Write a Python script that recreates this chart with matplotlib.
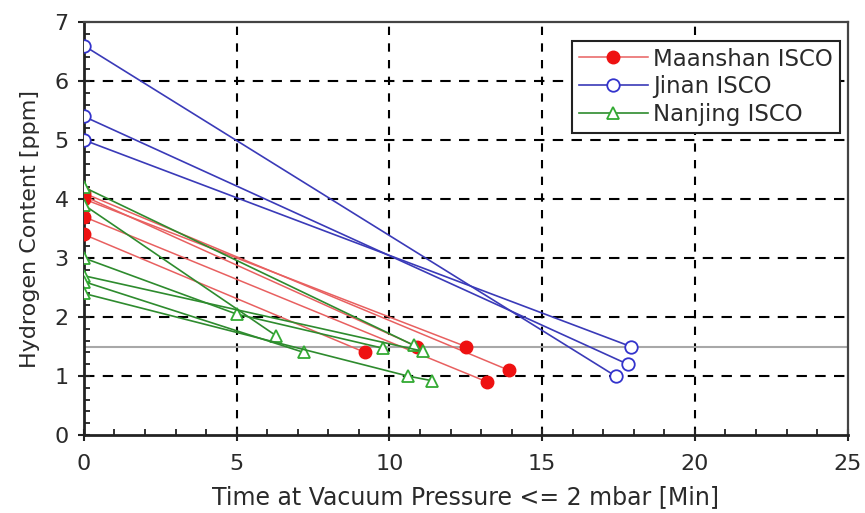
import matplotlib
matplotlib.use("Agg")
import matplotlib.pyplot as plt
from matplotlib.ticker import MultipleLocator

# ---- data ----
maanshan_x = [[0, 13.9], [0, 12.5], [0, 13.2], [0, 9.2], [0, 10.9]]
maanshan_y = [[4.1, 1.1], [4.0, 1.5], [3.7, 0.9], [3.4, 1.4], [4.05, 1.5]]

jinan_x = [[0, 17.4], [0, 17.8], [0, 17.9]]
jinan_y = [[6.6, 1.0], [5.4, 1.2], [5.0, 1.5]]

nanjing_x = [[0, 10.8], [0, 6.3], [0, 5.0, 9.8], [0, 11.1], [0, 7.2], [0, 10.6, 11.4]]
nanjing_y = [[4.2, 1.52], [3.9, 1.68], [3.0, 2.05, 1.47], [2.7, 1.42], [2.6, 1.4], [2.4, 1.0, 0.92]]

limit_value = 1.5
x_ticks = [0, 5, 10, 15, 20, 25]
y_ticks = [0, 1, 2, 3, 4, 5, 6, 7]
labels = ["Maanshan ISCO", "Jinan ISCO", "Nanjing ISCO"]
xlabel = "Time at Vacuum Pressure <= 2 mbar [Min]"
ylabel = "Hydrogen Content [ppm]"

plt.rcParams['font.family'] = ['DejaVu Sans']
txt_color = '#2a2a2a'

fig = plt.figure(figsize=(8.65, 5.13), dpi=100)
ax = fig.add_axes([0.097, 0.152, 0.883, 0.805])

# grid
for xv in x_ticks[1:-1]:
    ax.axvline(xv, color='black', lw=1.5, ls=(0, (4, 4)), zorder=1)
for yv in y_ticks[1:-1]:
    ax.axhline(yv, color='black', lw=1.5, ls=(0, (5, 4)), zorder=1)

ax.axhline(limit_value, color='#a8a8a8', lw=1.5, zorder=1.5)

# Maanshan
for i, (xs, ys) in enumerate(zip(maanshan_x, maanshan_y)):
    ax.plot(xs, ys, color='#e86060', lw=1.1, marker='o', ms=9,
            mfc='#ee1111', mec='#ee1111', zorder=3,
            label=labels[0] if i == 0 else None)
# Jinan
for i, (xs, ys) in enumerate(zip(jinan_x, jinan_y)):
    ax.plot(xs, ys, color='#3a3ab8', lw=1.2, marker='o', ms=9,
            mfc='white', mec='#3333cc', mew=1.3, zorder=3,
            label=labels[1] if i == 0 else None)
# Nanjing
for i, (xs, ys) in enumerate(zip(nanjing_x, nanjing_y)):
    ax.plot(xs, ys, color='#2e8b2e', lw=1.2, marker='^', ms=9,
            mfc='white', mec='#33aa33', mew=1.3, zorder=4,
            label=labels[2] if i == 0 else None)

ax.set_xlim(0, 25)
ax.set_ylim(0, 7)
ax.set_xticks(x_ticks)
ax.set_yticks(y_ticks)
ax.xaxis.set_minor_locator(MultipleLocator(1))
ax.yaxis.set_minor_locator(MultipleLocator(0.2))
ax.tick_params(which='major', direction='inout', length=8, width=1.5,
               labelsize=16, labelcolor=txt_color, color='#222')
ax.tick_params(axis='x', which='major', pad=10)
ax.tick_params(axis='y', which='major', pad=7)
ax.tick_params(which='minor', direction='in', length=4, width=1.3, color='#222')

for s in ['left', 'bottom']:
    ax.spines[s].set_linewidth(2)
    ax.spines[s].set_color('#222')
for s in ['top', 'right']:
    ax.spines[s].set_linewidth(1.6)
    ax.spines[s].set_color('#444')

ax.set_xlabel(xlabel, fontsize=17, color=txt_color, labelpad=8)
ax.set_ylabel(ylabel, fontsize=16, color=txt_color, labelpad=10)

leg = ax.legend(loc='upper right', bbox_to_anchor=(0.99, 0.955), fontsize=16.5,
                frameon=True, fancybox=False, edgecolor='#222', framealpha=1,
                handlelength=3.0, handletextpad=0.25, borderpad=0.3,
                labelspacing=0.2, borderaxespad=0.0)
leg.get_frame().set_linewidth(1.5)
for t in leg.get_texts():
    t.set_color(txt_color)

fig.savefig('out.png', dpi=100)
